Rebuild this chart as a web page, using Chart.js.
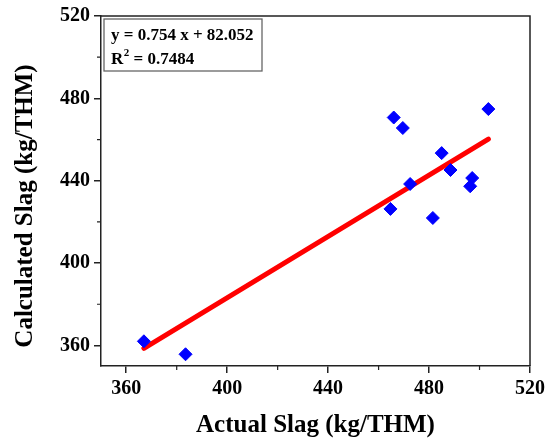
<!DOCTYPE html>
<html><head><meta charset="utf-8">
<script src="https://cdn.jsdelivr.net/npm/chart.js@4/dist/chart.umd.min.js"></script>
<style>html,body{margin:0;padding:0;background:#fff}#wrap{width:558px;height:441px}</style>
</head><body><div id="wrap"><canvas id="c" width="558" height="441"></canvas></div>
<script>
const actualSlag     = [367.0, 383.5, 464.7, 466.0, 469.6, 472.5, 481.5, 485.0, 488.5, 496.3, 497.1, 503.5];
const calculatedSlag = [362.0, 355.7, 426.3, 470.7, 465.6, 438.4, 421.9, 453.4, 445.2, 437.3, 441.3, 474.8];
const fitX = [367.0, 503.5];
const fitY = [358.6, 460.2];
const xTicks = [360, 400, 440, 480, 520];
const yTicks = [360, 400, 440, 480, 520];
const xMinor = [380, 420, 460, 500];
const yMinor = [380, 420, 460, 500];
const xTitle = 'Actual Slag (kg/THM)';
const yTitle = 'Calculated Slag (kg/THM)';
const eqText = 'y = 0.754 x + 82.052';
const r2Text = '0.7484';

const FONT = '"Liberation Serif", "Times New Roman", serif';

const framePlugin = {
  id: 'frame',
  afterDraw(chart) {
    const ctx = chart.ctx, a = chart.chartArea;
    const xs = chart.scales.x, ys = chart.scales.y;
    ctx.save();
    ctx.strokeStyle = '#222';
    ctx.lineWidth = 1.5;
    ctx.beginPath();
    ctx.moveTo(a.left, a.top); ctx.lineTo(a.right, a.top); ctx.lineTo(a.right, a.bottom);
    ctx.stroke();
    ctx.lineWidth = 1.2;
    ctx.beginPath();
    xMinor.forEach(v => { const p = xs.getPixelForValue(v); ctx.moveTo(p, a.bottom); ctx.lineTo(p, a.bottom + 4); });
    yMinor.forEach(v => { const p = ys.getPixelForValue(v); ctx.moveTo(a.left, p); ctx.lineTo(a.left - 4, p); });
    ctx.stroke();
    // axis titles
    ctx.fillStyle = '#000';
    ctx.font = 'bold 25px ' + FONT;
    ctx.textAlign = 'center';
    ctx.textBaseline = 'alphabetic';
    ctx.fillText(xTitle, (a.left + a.right) / 2, 432);
    ctx.save();
    ctx.translate(32, (a.top + a.bottom) / 2 + 15);
    ctx.rotate(-Math.PI / 2);
    ctx.fillText(yTitle, 0, 0);
    ctx.restore();
    // annotation box
    ctx.textAlign = 'left';
    const bx = a.left + 3, by = a.top + 3, bw = 158, bh = 52;
    ctx.strokeStyle = '#666';
    ctx.lineWidth = 1.3;
    ctx.strokeRect(bx, by, bw, bh);
    ctx.font = 'bold 17px ' + FONT;
    ctx.fillText(eqText, bx + 7, by + 21);
    const ly = by + 45;
    ctx.fillText('R', bx + 7, ly);
    const rw = ctx.measureText('R').width;
    ctx.font = 'bold 11px ' + FONT;
    ctx.fillText('2', bx + 7 + rw + 0.5, ly - 8);
    const sw = ctx.measureText('2').width;
    ctx.font = 'bold 17px ' + FONT;
    ctx.fillText(' = ' + r2Text, bx + 7 + rw + sw + 0.5, ly);
    ctx.restore();
  }
};

new Chart(document.getElementById('c'), {
  type: 'scatter',
  data: {
    datasets: [
      {
        label: 'Data',
        data: actualSlag.map((x, i) => ({ x, y: calculatedSlag[i] })),
        pointStyle: 'rectRot',
        pointRadius: 6.5,
        backgroundColor: '#0000FF',
        borderColor: '#0000FF',
        borderWidth: 1
      },
      {
        label: 'Fit',
        type: 'line',
        data: fitX.map((x, i) => ({ x, y: fitY[i] })),
        borderColor: '#FF0000',
        borderWidth: 5,
        pointRadius: 0,
        fill: false,
        borderCapStyle: 'round'
      }
    ]
  },
  options: {
    responsive: false,
    animation: false,
    layout: { padding: { left: 0, top: 15, right: 28, bottom: 0 } },
    plugins: { legend: { display: false }, tooltip: { enabled: false } },
    scales: {
      x: {
        type: 'linear', min: 350, max: 520,
        afterBuildTicks: s => { s.ticks = xTicks.map(v => ({ value: v })); },
        afterFit: s => { s.height = 75; },
        grid: { display: true, drawOnChartArea: false, drawTicks: true, tickLength: 7, color: '#222', lineWidth: 1.5 },
        border: { display: true, color: '#222', width: 1.5 },
        ticks: { color: '#000', font: { family: FONT, size: 20, weight: 'bold' }, padding: 4, maxRotation: 0 },
        title: { display: false }
      },
      y: {
        type: 'linear', min: 350, max: 520,
        afterBuildTicks: s => { s.ticks = yTicks.map(v => ({ value: v })); },
        afterFit: s => { s.width = 101; },
        grid: { display: true, drawOnChartArea: false, drawTicks: true, tickLength: 7, color: '#222', lineWidth: 1.5 },
        border: { display: true, color: '#222', width: 1.5 },
        ticks: { color: '#000', font: { family: FONT, size: 20, weight: 'bold' }, padding: 4 },
        title: { display: false }
      }
    }
  },
  plugins: [framePlugin]
});
</script></body></html>
